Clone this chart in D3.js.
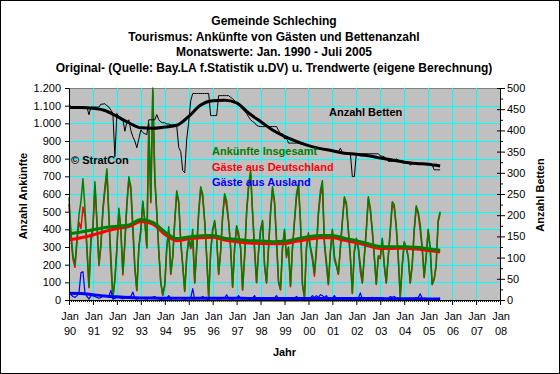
<!DOCTYPE html>
<html>
<head>
<meta charset="utf-8">
<script src="https://cdn.jsdelivr.net/npm/d3@7"></script>
<style>
  body { margin: 0; background: #fff; }
  svg { display: block; font-family: Arial, "Liberation Sans", sans-serif; }
</style>
</head>
<body>
<script>
// tick labels of the time axis (Jan of each year)
var yearLabels = ["90", "91", "92", "93", "94", "95", "96", "97", "98", "99",
  "00", "01", "02", "03", "04", "05", "06", "07", "08"];

var titleLines = [
  "Gemeinde Schleching",
  "Tourismus: Ankünfte von Gästen und Bettenanzahl",
  "Monatswerte: Jan. 1990 - Juli 2005",
  "Original- (Quelle: Bay.LA f.Statistik u.DV) u. Trendwerte (eigene Berechnung)"
];

// monthly values Jan 1990 .. Jul 2005
var insgesamt = [
  580, 380, 250, 200, 350, 480, 560, 686, 520, 300, 74, 357,
  420, 669, 450, 204, 320, 520, 640, 743, 480, 250, 17, 120,
  300, 520, 400, 150, 330, 550, 697, 640, 430, 187, 57, 300,
  400, 560, 450, 300, 1000, 560, 1200, 700, 500, 280, 100, 30,
  90, 300, 414, 150, 250, 450, 618, 560, 335, 200, 51, 250,
  350, 300, 400, 100, 300, 500, 641, 600, 450, 250, 17, 280,
  400, 450, 350, 150, 280, 480, 601, 560, 450, 300, 74, 300,
  420, 380, 300, 60, 250, 500, 650, 731, 500, 300, 100, 280,
  400, 450, 200, 100, 300, 500, 641, 560, 350, 108, 60, 300,
  400, 250, 300, 80, 300, 450, 600, 658, 450, 91, 17, 300,
  380, 300, 250, 150, 300, 500, 620, 675, 330, 220, 91, 280,
  400, 250, 200, 150, 300, 450, 584, 550, 400, 250, 40, 280,
  350, 300, 200, 100, 250, 400, 584, 520, 400, 250, 91, 250,
  244, 350, 200, 100, 250, 400, 556, 540, 420, 250, 17, 200,
  330, 300, 250, 100, 200, 400, 533, 500, 430, 300, 130, 250,
  400, 300, 91, 120, 200, 450, 500
];

var deutschland = [
  545, 350, 230, 185, 325, 440, 405, 526, 480, 280, 69, 332,
  395, 649, 435, 194, 305, 500, 620, 718, 460, 195, 12, 110,
  285, 505, 390, 142, 320, 535, 677, 620, 385, 177, 52, 290,
  388, 550, 442, 295, 990, 550, 1185, 680, 490, 272, 97, 25,
  82, 290, 389, 145, 242, 440, 606, 548, 325, 192, 48, 242,
  340, 290, 335, 95, 292, 490, 629, 580, 440, 242, 14, 270,
  390, 440, 342, 145, 272, 470, 589, 530, 440, 292, 71, 290,
  410, 355, 292, 55, 242, 490, 638, 719, 490, 275, 97, 270,
  390, 440, 192, 95, 292, 490, 629, 548, 325, 100, 57, 290,
  390, 240, 292, 75, 292, 440, 580, 646, 440, 83, 14, 290,
  370, 290, 225, 135, 275, 485, 590, 650, 315, 195, 86, 270,
  390, 225, 192, 145, 292, 440, 572, 538, 390, 242, 37, 270,
  340, 290, 160, 95, 242, 390, 572, 508, 385, 242, 88, 240,
  234, 340, 192, 95, 242, 380, 541, 520, 410, 242, 14, 192,
  322, 292, 242, 95, 192, 390, 521, 488, 395, 292, 127, 242,
  392, 292, 86, 115, 192, 440, 490
];

var ausland = [
  35, 30, 20, 15, 25, 40, 155, 160, 40, 20, 5, 25,
  25, 20, 15, 10, 15, 20, 20, 25, 20, 55, 5, 10,
  15, 15, 10, 8, 10, 15, 20, 20, 45, 10, 5, 10,
  12, 10, 8, 5, 10, 10, 15, 20, 10, 8, 3, 5,
  8, 10, 25, 5, 8, 10, 12, 12, 10, 8, 3, 8,
  10, 10, 65, 5, 8, 10, 12, 20, 10, 8, 3, 10,
  10, 10, 8, 5, 8, 10, 12, 30, 10, 8, 3, 10,
  10, 25, 8, 5, 8, 10, 12, 12, 10, 25, 3, 10,
  10, 10, 8, 5, 8, 10, 12, 12, 25, 8, 3, 10,
  10, 10, 8, 5, 8, 10, 20, 12, 10, 8, 3, 10,
  10, 10, 25, 15, 25, 15, 30, 25, 15, 25, 5, 10,
  10, 25, 8, 5, 8, 10, 12, 12, 10, 8, 3, 10,
  10, 10, 40, 5, 8, 10, 12, 12, 15, 8, 3, 10,
  10, 10, 8, 5, 8, 20, 15, 20, 10, 8, 3, 8,
  8, 8, 8, 5, 8, 10, 12, 12, 35, 8, 3, 8,
  8, 8, 5, 5, 8, 10, 10
];

// beds (right axis)
var betten = [
  462, 456, 455, 455, 455, 455, 455, 455, 455, 455, 437, 455,
  455, 455, 455, 455, 462, 462, 463, 458, 455, 448, 440, 338,
  440, 432, 425, 425, 398, 420, 425, 400, 385, 375, 359, 380,
  401, 395, 392, 390, 425, 425, 425, 425, 437, 425, 420, 418,
  418, 415, 415, 413, 413, 413, 410, 360, 350, 305, 300, 380,
  420, 470, 487, 487, 487, 487, 487, 487, 487, 487, 487, 435,
  435, 435, 435, 482, 482, 482, 482, 482, 482, 478, 475, 470,
  465, 460, 455, 450, 445, 440, 432, 425, 421, 418, 412, 410,
  409, 409, 409, 409, 409, 409, 409, 409, 409, 400, 392, 392,
  380, 382, 370, 370, 370, 370, 370, 370, 368, 367, 366, 365,
  364, 363, 362, 361, 360, 358, 357, 356, 355, 354, 353, 352,
  351, 350, 349, 349, 358, 348, 346, 346, 346, 346, 291, 291,
  345, 345, 345, 345, 345, 345, 345, 345, 345, 345, 345, 345,
  340, 339, 338, 333, 327, 327, 327, 327, 333, 330, 328, 328,
  327, 326, 325, 318, 322, 322, 322, 322, 322, 322, 322, 319,
  319, 319, 319, 307, 307, 307, 307
];

// trend values, every 6 months (Jan / Jul)
var trendInsgesamt = [374, 385, 398, 410, 418, 425, 455, 440, 386, 348, 357, 363,
  365, 350, 343, 336, 334, 330, 332, 346, 358, 365, 365, 350,
  336, 318, 303, 302, 302, 298, 290, 282];
var trendDeutschland = [340, 352, 368, 388, 405, 415, 444, 430, 372, 336, 346, 352,
  355, 340, 330, 322, 320, 318, 320, 332, 343, 352, 352, 338,
  325, 307, 292, 292, 293, 288, 280, 272];
var trendAusland = [38, 37, 30, 23, 18, 14, 12, 11, 10, 10, 10, 10,
  10, 10, 10, 9, 9, 9, 9, 9, 9, 9, 9, 8,
  8, 8, 8, 7, 7, 7, 6, 6];
var trendBetten = [454, 454, 452, 447, 433, 418, 406, 405, 408, 412, 433, 460,
  470, 471, 465, 441, 421, 401, 386, 374, 364, 357, 352, 346,
  344, 340, 335, 330, 325, 322, 320, 316];

var width = 560, height = 374;
var margin = { top: 88, right: 60, bottom: 74, left: 69 };
var plotW = width - margin.left - margin.right,
  plotH = height - margin.top - margin.bottom;

var svg = d3.select("body").append("svg")
  .attr("width", width)
  .attr("height", height);

svg.append("rect")
  .attr("x", 0.5).attr("y", 0.5)
  .attr("width", width - 1).attr("height", height - 1)
  .attr("fill", "#fff").attr("stroke", "#000");

// scales
var x = d3.scaleLinear().domain([0, (yearLabels.length - 1) * 12]).range([margin.left, margin.left + plotW]);
var yL = d3.scaleLinear().domain([0, 1200]).range([margin.top + plotH, margin.top]);
var yR = d3.scaleLinear().domain([0, 500]).range([margin.top + plotH, margin.top]);

var px = function (v) { return Math.round(v) + 0.5; };

// plot area
svg.append("rect")
  .attr("x", margin.left + 0.5).attr("y", margin.top + 0.5)
  .attr("width", plotW).attr("height", plotH)
  .attr("fill", "#C0C0C0").attr("stroke", "#808080");

// grid
var grid = svg.append("g").attr("stroke", "#00FFFF").attr("stroke-width", 1);
grid.selectAll("line.v")
  .data(d3.range(12, (yearLabels.length - 1) * 12, 12))
  .enter().append("line")
  .attr("x1", d => px(x(d))).attr("x2", d => px(x(d)))
  .attr("y1", margin.top).attr("y2", margin.top + plotH);
grid.selectAll("line.h")
  .data(d3.range(100, 1200, 100))
  .enter().append("line")
  .attr("y1", d => px(yL(d))).attr("y2", d => px(yL(d)))
  .attr("x1", margin.left).attr("x2", margin.left + plotW);

// lines
var rawLine = function (scale) {
  return d3.line().x((d, i) => x(i)).y(d => scale(d));
};
var trendLine = function (scale) {
  return d3.line().x((d, i) => x(i * 6)).y(d => scale(d)).curve(d3.curveMonotoneX);
};

function addPath(data, gen, color, w) {
  svg.append("path")
    .datum(data)
    .attr("d", gen)
    .attr("fill", "none")
    .attr("stroke", color)
    .attr("stroke-width", w)
    .attr("stroke-linejoin", "round");
}

addPath(deutschland, rawLine(yL), "#FF0000", 1.5);
addPath(insgesamt, rawLine(yL), "#008000", 1.5);
addPath(ausland, rawLine(yL), "#0000FF", 1.2);
addPath(betten, rawLine(yR), "#000", 1);
addPath(trendDeutschland, trendLine(yL), "#FF0000", 3);
addPath(trendInsgesamt, trendLine(yL), "#008000", 3);
addPath(trendAusland, trendLine(yL), "#0000FF", 3);
addPath(trendBetten, trendLine(yR), "#000", 3);

// axes
var de = d3.formatLocale({ decimal: ",", thousands: ".", grouping: [3], currency: ["", ""] });

function styleAxis(g) {
  g.attr("font-size", 11).attr("font-family", "Arial, 'Liberation Sans', sans-serif");
  g.selectAll("path, line").attr("stroke", "#000");
  g.selectAll("text").attr("fill", "#000");
}

svg.append("g")
  .attr("transform", "translate(" + margin.left + ",0)")
  .call(d3.axisLeft(yL).tickValues(d3.range(0, 1201, 100)).tickSize(4).tickSizeOuter(0).tickPadding(4).tickFormat(de.format(",")))
  .call(styleAxis);

svg.append("g")
  .attr("transform", "translate(" + (margin.left + plotW) + ",0)")
  .call(d3.axisRight(yR).tickValues(d3.range(0, 501, 50)).tickSize(5).tickSizeOuter(0).tickPadding(2))
  .call(styleAxis);
svg.append("g")
  .attr("transform", "translate(" + (margin.left + plotW) + ",0)")
  .call(d3.axisRight(yR).tickValues(d3.range(25, 500, 50)).tickSize(3).tickSizeOuter(0).tickFormat(""))
  .call(styleAxis)
  .call(g => g.select(".domain").remove());
svg.append("g")
  .attr("transform", "translate(" + (margin.left + plotW) + ",0)")
  .call(d3.axisLeft(yR).tickValues(d3.range(0, 501, 50)).tickSize(3).tickSizeOuter(0).tickFormat(""))
  .call(styleAxis)
  .call(g => g.select(".domain").remove());

svg.append("g")
  .attr("transform", "translate(0," + (margin.top + plotH) + ")")
  .call(d3.axisBottom(x).tickValues(d3.range(0, (yearLabels.length - 1) * 12 + 1, 1)).tickSize(2).tickSizeOuter(0).tickFormat(""))
  .call(styleAxis);
svg.append("g")
  .attr("transform", "translate(0," + (margin.top + plotH) + ")")
  .call(d3.axisBottom(x).tickValues(d3.range(0, (yearLabels.length - 1) * 12 + 1, 12)).tickSize(5).tickSizeOuter(0).tickFormat(""))
  .call(styleAxis)
  .call(g => g.select(".domain").remove());

var xl = svg.append("g").attr("font-size", 11).attr("text-anchor", "middle").attr("fill", "#000");
xl.selectAll("text.m")
  .data(yearLabels)
  .enter().append("text")
  .attr("x", (d, i) => x(i * 12) + 1)
  .attr("y", 320)
  .text("Jan");
xl.selectAll("text.y")
  .data(yearLabels)
  .enter().append("text")
  .attr("x", (d, i) => x(i * 12) + 1)
  .attr("y", 335)
  .text(d => d);

// titles
svg.append("g")
  .attr("font-size", 12).attr("font-weight", "bold").attr("text-anchor", "middle")
  .selectAll("text")
  .data(titleLines)
  .enter().append("text")
  .attr("x", 274)
  .attr("y", (d, i) => 25 + i * 15.5)
  .text(d => d);

svg.append("text")
  .attr("font-size", 11).attr("font-weight", "bold").attr("text-anchor", "middle")
  .attr("x", margin.left + plotW / 2).attr("y", 356)
  .text("Jahr");

svg.append("text")
  .attr("font-size", 11).attr("font-weight", "bold").attr("text-anchor", "middle")
  .attr("transform", "translate(27,196) rotate(-90)")
  .text("Anzahl Ankünfte");

svg.append("text")
  .attr("font-size", 11).attr("font-weight", "bold").attr("text-anchor", "middle")
  .attr("transform", "translate(544,195) rotate(-90)")
  .text("Anzahl Betten");

// labels inside the plot
var labels = [
  { t: "Anzahl Betten", c: "#000", x: 329, y: 116 },
  { t: "© StratCon", c: "#000", x: 71, y: 164 },
  { t: "Ankünfte Insgesamt", c: "#008000", x: 212, y: 155 },
  { t: "Gäste aus Deutschland", c: "#FF0000", x: 212, y: 171 },
  { t: "Gäste aus Ausland", c: "#0000FF", x: 212, y: 186 }
];
svg.append("g")
  .attr("font-size", 11).attr("font-weight", "bold")
  .selectAll("text")
  .data(labels)
  .enter().append("text")
  .attr("x", d => d.x).attr("y", d => d.y)
  .attr("fill", d => d.c)
  .text(d => d.t);
</script>
</body>
</html>
